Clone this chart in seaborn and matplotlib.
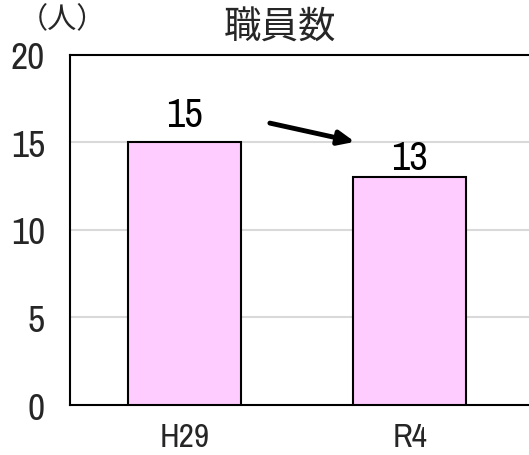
import matplotlib
matplotlib.use("Agg")
import matplotlib.pyplot as plt
import seaborn as sns
import pandas as pd

years = ["H29", "R4"]
staff = [15, 13]
yticks = [0, 5, 10, 15, 20]
title = "職員数"
unit = "（人）"

sns.set_theme(style="white")
latin = ["Archivo Narrow", "Noto Sans CJK JP", "DejaVu Sans"]
cjk = ["Noto Sans CJK JP", "DejaVu Sans"]
plt.rcParams["font.family"] = latin

df = pd.DataFrame({"year": years, "staff": staff})

fig = plt.figure(figsize=(5.29, 4.56), dpi=100)
ax = fig.add_axes([0.1323, 0.1096, 0.898, 0.768])

sns.barplot(data=df, x="year", y="staff", color="#FFCCFF", saturation=1,
            width=0.5, edgecolor="black", linewidth=1.5, ax=ax, zorder=3)

ax.set_xlim(-0.508, 1.6)
ax.set_ylim(0, 20)
ax.set_yticks(yticks)
ax.set_yticklabels([str(v) for v in yticks], fontsize=27)
ax.tick_params(axis="x", labelsize=24, pad=12, length=0)
ax.tick_params(axis="y", pad=18, length=0)
ax.set_xlabel("")
ax.set_ylabel("")

for v in yticks[1:-1]:
    ax.axhline(v, color="#d9d9d9", linewidth=1.5, zorder=1)

for s in ["left", "top", "bottom"]:
    ax.spines[s].set_visible(True)
    ax.spines[s].set_color("black")
    ax.spines[s].set_linewidth(1.5)
ax.spines["right"].set_visible(False)

# value labels, lifted a few points above each bar
label_lift = [7, 1]
for i, v in enumerate(staff):
    ax.annotate(str(v), xy=(i, v), xytext=(0, label_lift[i]),
                textcoords="offset points", ha="center", va="bottom",
                fontsize=29, fontweight="medium", color="black", zorder=4)

# decrease arrow between the two bars
ax.annotate("", xy=(0.756, 15.03), xytext=(0.379, 16.1),
            arrowprops=dict(arrowstyle="-|>,head_length=0.8,head_width=0.35",
                            color="black", lw=3.5, shrinkA=0, shrinkB=0),
            zorder=5)

fig.text(0.53, 1 - 28 / 456, title, ha="center", va="center", fontsize=27,
         family=cjk)
fig.text(62 / 529, 1 - 20 / 456, unit, ha="center", va="center", fontsize=21,
         family=cjk)

fig.savefig("out.png", dpi=100)
